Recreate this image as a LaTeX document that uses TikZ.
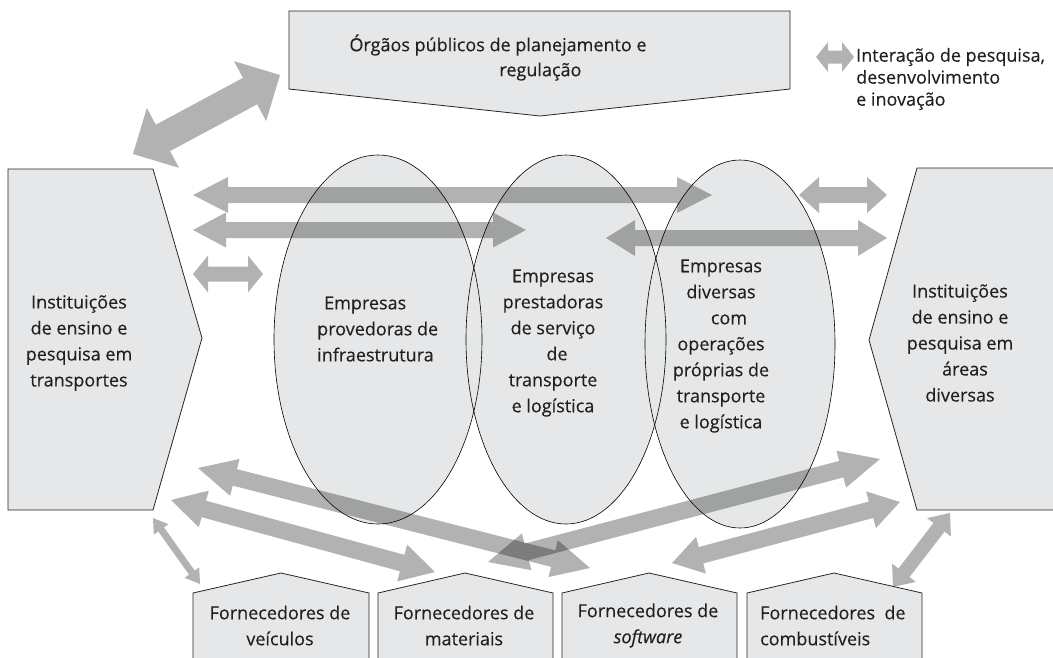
\documentclass[tikz,border=0pt]{standalone}
\usepackage{fontspec}
\setmainfont[FakeBold=0.25]{Open Sans}
\usetikzlibrary{calc}
\definecolor{boxfill}{HTML}{E6E7E8}
\definecolor{txt}{HTML}{231F20}
\tikzset{
  shapebox/.style={fill=boxfill, draw=black!85, line width=0.8pt, line join=miter},
  ellfill/.style={fill=boxfill},
  elldraw/.style={draw=black, line width=0.6pt},
  arrowfill/.style={fill=black, fill opacity=0.3},
  lbl/.style={text=txt, font=\fontsize{18}{26}\selectfont, inner sep=0pt},
}
\newcommand\dblarrow[5]{%
  \fill[arrowfill] (#1) -- ($(#1)!#5!(#2)!#4!90:(#2)$) -- ($(#1)!#5!(#2)!#3!90:(#2)$)
   -- ($(#2)!#5!(#1)!#3!-90:(#1)$) -- ($(#2)!#5!(#1)!#4!-90:(#1)$) -- (#2)
   -- ($(#2)!#5!(#1)!#4!90:(#1)$) -- ($(#2)!#5!(#1)!#3!90:(#1)$)
   -- ($(#1)!#5!(#2)!#3!-90:(#2)$) -- ($(#1)!#5!(#2)!#4!-90:(#2)$) -- cycle;}
\begin{document}
\begin{tikzpicture}[x=1pt,y=-1pt]
\useasboundingbox (0,0) rectangle (1053,657);
\clip (0,0) rectangle (1053,657);
% boxes
\path[shapebox] (289,11) -- (790,11) -- (790,89) -- (540,116) -- (289,89) -- cycle;
\path[shapebox] (8,169) -- (153,169) -- (202,338) -- (153,510) -- (8,510) -- cycle;
\path[shapebox] (917,168) -- (1070,168) -- (1070,510) -- (917,510) -- (869,340) -- cycle;
\path[shapebox] (193,670) -- (193,593) -- (281,573) -- (369,593) -- (369,670);
\path[shapebox] (378,670) -- (378,593) -- (465,573) -- (553,593) -- (553,670);
\path[shapebox] (562,670) -- (562,593) -- (649,573) -- (737,593) -- (737,670);
\path[shapebox] (747,670) -- (747,593) -- (834,573) -- (922,593) -- (922,670);
% ellipses
\path[ellfill] (378,339.5) ellipse [x radius=104, y radius=184.5];
\path[ellfill] (566,339.5) ellipse [x radius=100, y radius=184.5];
\path[ellfill] (740,344) ellipse [x radius=95, y radius=184];
\path[elldraw] (378,339.5) ellipse [x radius=104, y radius=184.5];
\path[elldraw] (566,339.5) ellipse [x radius=100, y radius=184.5];
\path[elldraw] (740,344) ellipse [x radius=95, y radius=184];
% texts
\node[lbl, align=left] (org) at (498,57.5) {Órgãos públicos de planejamento e\\[-1pt]\hspace*{150pt}regulação};
\node[lbl, align=left, anchor=west, font=\fontsize{18}{22}\selectfont] (leg) at (856,79) {Interação de pesquisa,\\desenvolvimento\\e inovação};
\node[lbl, align=center] (iet) at (79,343) {Instituições\\de ensino e\\pesquisa em\\transportes};
\node[lbl, align=center] (iea) at (960,343) {Instituições\\de ensino e\\pesquisa em\\\hspace*{10pt}áreas\\diversas};
\node[lbl, align=left, anchor=west] (epi) at (317,329) {\hspace*{7pt}Empresas\\provedoras de\\infraestrutura};
\node[lbl, align=center] (eps) at (553,343) {Empresas\\prestadoras\\de serviço\\\hspace*{8pt}de\\transporte\\e logística};
\node[lbl, align=center] (edo) at (721,346) {Empresas\\diversas\\\hspace*{16pt}com\\operações\\próprias de\\transporte\\e logística};
\node[lbl, align=center] (fv) at (280,625.5) {Fornecedores de\\veículos};
\node[lbl, align=center] (fm) at (464,625.5) {Fornecedores de\\materiais};
\node[lbl, align=center] (fs) at (648,625.5) {Fornecedores de\\\textit{software}};
\node[lbl, align=left, anchor=west] (fc) at (760,625.5) {Fornecedores\ \ de\\combustíveis};
% arrow end points
\coordinate (a1s) at (133,154); \coordinate (a1e) at (280,75);
\coordinate (a2s) at (193,195); \coordinate (a2e) at (712,195);
\coordinate (a3s) at (193,230); \coordinate (a3e) at (526,230);
\coordinate (a4s) at (606,238); \coordinate (a4e) at (887,238);
\coordinate (a5s) at (799,195); \coordinate (a5e) at (887,195);
\coordinate (a6s) at (193,274); \coordinate (a6e) at (263,274);
\coordinate (lgs) at (816,57); \coordinate (lge) at (854,57);
\coordinate (b1s) at (198,468); \coordinate (b1e) at (590,568);
\coordinate (b2s) at (171,500); \coordinate (b2e) at (435,572);
\coordinate (b3s) at (488,562); \coordinate (b3e) at (880,459);
\coordinate (b4s) at (672,563); \coordinate (b4e) at (900,502);
\coordinate (b5s) at (153,518); \coordinate (b5e) at (200,584);
\coordinate (b6s) at (893,587); \coordinate (b6e) at (950,513);
% arrows
\dblarrow{a1s}{a1e}{15pt}{34pt}{34pt}
\dblarrow{a2s}{a2e}{8pt}{18pt}{35pt}
\dblarrow{a3s}{a3e}{8pt}{17.5pt}{33pt}
\dblarrow{a4s}{a4e}{8pt}{18pt}{29pt}
\dblarrow{a5s}{a5e}{8pt}{18pt}{20pt}
\dblarrow{a6s}{a6e}{7.5pt}{18.5pt}{15pt}
\dblarrow{lgs}{lge}{6.5pt}{15pt}{12pt}
\dblarrow{b1s}{b1e}{8.5pt}{19pt}{38pt}
\dblarrow{b2s}{b2e}{8.5pt}{19pt}{34pt}
\dblarrow{b3s}{b3e}{8.5pt}{19pt}{40pt}
\dblarrow{b4s}{b4e}{8.5pt}{19pt}{30pt}
\dblarrow{b5s}{b5e}{3.5pt}{9pt}{14pt}
\dblarrow{b6s}{b6e}{7pt}{15pt}{18pt}
\end{tikzpicture}
\end{document}
